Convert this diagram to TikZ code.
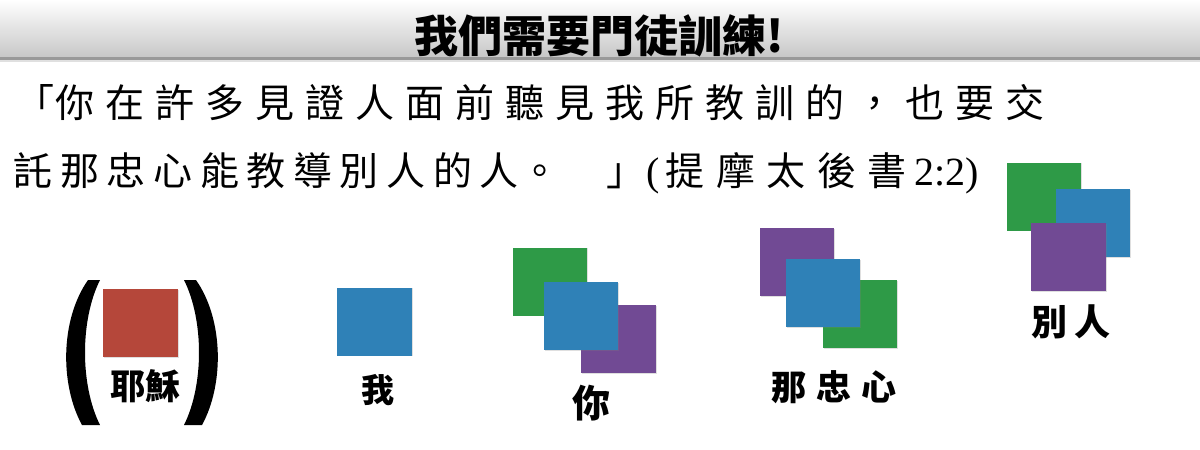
\documentclass[tikz,border=0pt]{standalone}
\usepackage{fontspec}
\usetikzlibrary{shadows}
\newfontfamily\cjk{Noto Sans CJK TC}
\newfontfamily\lser{Liberation Serif}
\makeatletter
\newcommand\pitched[2]{\@tfor\pch:=#2\do{\makebox[#1][c]{\pch}}}
\makeatother
\definecolor{sqred}{RGB}{181,71,58}
\definecolor{sqblue}{RGB}{47,129,183}
\definecolor{sqgreen}{RGB}{46,154,71}
\definecolor{sqpurple}{RGB}{113,74,148}
\tikzset{
  sq/.style={minimum width=74.5pt, minimum height=68pt, inner sep=0pt, draw=none,
    drop shadow={shadow xshift=0.8pt, shadow yshift=-0.8pt, opacity=0.25}},
  verse/.style={anchor=base west, inner sep=0pt, font=\cjk\fontsize{39}{39}\selectfont},
  lbl/.style={anchor=base, inner sep=0pt, font=\cjk\bfseries\fontsize{35}{35}\selectfont},
}
\begin{document}
\begin{tikzpicture}[x=1pt,y=-1pt]
\useasboundingbox (0,0) rectangle (1200,450);
\fill[white] (0,0) rectangle (1200,450);
% title bar
\shade[top color=white, bottom color=black!22] (0,0) rectangle (1200,57);
\fill[black!40] (0,56.5) rectangle (1200,59.5);
\fill[black!12] (0,59.5) rectangle (1200,61.5);
\node[anchor=base, inner sep=0pt, font=\cjk\bfseries\fontsize{44}{44}\selectfont] (title) at (599,52) {我們需要門徒訓練!};
% verse
\node[verse] (line1) at (15.5,117) {\makebox[34.5pt][l]{「}\pitched{50pt}{你在許多見證人面前聽見我所教訓的，也要交}};
\node[verse] (line2) at (9.7,185) {\pitched{46.6pt}{託那忠心能教導別人的人}\makebox[36pt][c]{。}\hspace*{47.7pt}」\hspace*{1pt}{\lser\fontsize{40}{40}\selectfont(}\hspace*{0.45pt}\pitched{50.5pt}{提摩太後書}\hspace*{2pt}{\lser\fontsize{40}{40}\selectfont 2:2)}};
% Jesus
\fill[black] (88,280) .. controls (60,320) and (60,385) .. (82,425) -- (100,425) .. controls (80,385) and (80,320) .. (100,280) -- cycle;
\fill[black] (196,280) .. controls (224,320) and (224,385) .. (202,425) -- (184,425) .. controls (204,385) and (204,320) .. (184,280) -- cycle;
\node[sq, fill=sqred] (jesus) at (140.5,323) {};
\node[lbl] (jesuslbl) at (145,399) {耶穌};
% me
\node[sq, fill=sqblue] (me) at (374.5,321.5) {};
\node[lbl, font=\cjk\bfseries\fontsize{33}{33}\selectfont] (melbl) at (378,402) {我};
% you
\node[sq, fill=sqgreen] (youg) at (550,281.5) {};
\node[sq, fill=sqpurple] (youp) at (618.5,339) {};
\node[sq, fill=sqblue] (youb) at (581,316) {};
\node[lbl, font=\cjk\bfseries\fontsize{38}{38}\selectfont] (youlbl) at (591,417) {你};
% faithful
\node[sq, fill=sqpurple] (faithp) at (797,262) {};
\node[sq, fill=sqgreen] (faithg) at (860,314) {};
\node[sq, fill=sqblue] (faithb) at (823,293) {};
\node[lbl] (faithlbl) at (834,400) {\pitched{45pt}{那忠心}};
% others
\node[sq, fill=sqgreen] (otherg) at (1044,196.5) {};
\node[sq, fill=sqblue] (otherb) at (1093,223) {};
\node[sq, fill=sqpurple] (otherp) at (1068.5,257) {};
\node[lbl, font=\cjk\bfseries\fontsize{36}{36}\selectfont] (otherlbl) at (1071,335) {\pitched{43pt}{別人}};
\end{tikzpicture}
\end{document}
